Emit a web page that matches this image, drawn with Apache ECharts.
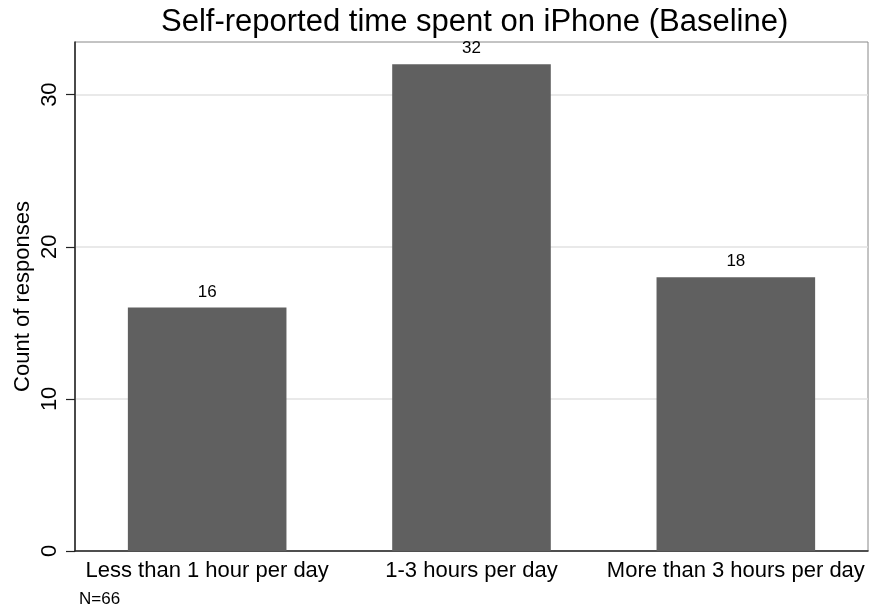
<!DOCTYPE html>
<html>
<head>
<meta charset="utf-8">
<script src="https://cdn.jsdelivr.net/npm/echarts@6/dist/echarts.min.js"></script>
<style>html,body{margin:0;padding:0;background:#fff;}#c{width:870px;height:612px;}</style>
</head>
<body>
<div id="c"></div>
<script>
var categories = ['Less than 1 hour per day', '1-3 hours per day', 'More than 3 hours per day'];
var counts = [16, 32, 18];
var yTicks = [0, 10, 20, 30];
var titleText = 'Self-reported time spent on iPhone (Baseline)';
var yName = 'Count of responses';
var noteText = 'N=66';

var FONT = '"Liberation Sans", Arial, Helvetica, sans-serif';
var chart = echarts.init(document.getElementById('c'));
chart.setOption({
  animation: false,
  backgroundColor: '#fff',
  title: {
    text: titleText,
    left: 156, top: 2,
    textStyle: { fontFamily: FONT, fontSize: 31, fontWeight: 'normal', color: '#000' }
  },
  grid: {
    left: 75, right: 2, top: 42, bottom: 61,
    outerBoundsMode: 'none',
    containLabel: false,
    show: true, borderColor: '#888', borderWidth: 1, backgroundColor: '#fff'
  },
  xAxis: {
    type: 'category',
    data: categories,
    axisLine: { lineStyle: { color: '#222', width: 1.5 } },
    axisTick: { show: false },
    axisLabel: { fontFamily: FONT, fontSize: 22, color: '#000', margin: 9, interval: 0 }
  },
  yAxis: {
    type: 'value',
    min: 0, max: 33.46,
    interval: 10,
    name: yName,
    nameLocation: 'middle',
    nameRotate: 90,
    nameGap: 41,
    nameMoveOverlap: false,
    nameTextStyle: { fontFamily: FONT, fontSize: 22, color: '#000' },
    axisLine: { show: true, lineStyle: { color: '#222', width: 1.5 } },
    axisTick: { show: true, length: 9, lineStyle: { color: '#222', width: 1.2 }, customValues: yTicks },
    axisLabel: { rotate: 90, fontFamily: FONT, fontSize: 22, color: '#000', margin: 14, customValues: yTicks },
    splitLine: { show: true, lineStyle: { color: '#e2e2e2', width: 1.5 } }
  },
  series: [{
    type: 'bar',
    data: counts,
    barWidth: '60%',
    itemStyle: { color: '#606060' },
    label: {
      show: true, position: 'top', distance: 7,
      fontFamily: FONT, fontSize: 17, color: '#000'
    }
  }],
  graphic: [{
    type: 'text', left: 79, top: 591,
    style: { text: noteText, fontFamily: FONT, fontSize: 17, fill: '#000' }
  }]
});
</script>
</body>
</html>
